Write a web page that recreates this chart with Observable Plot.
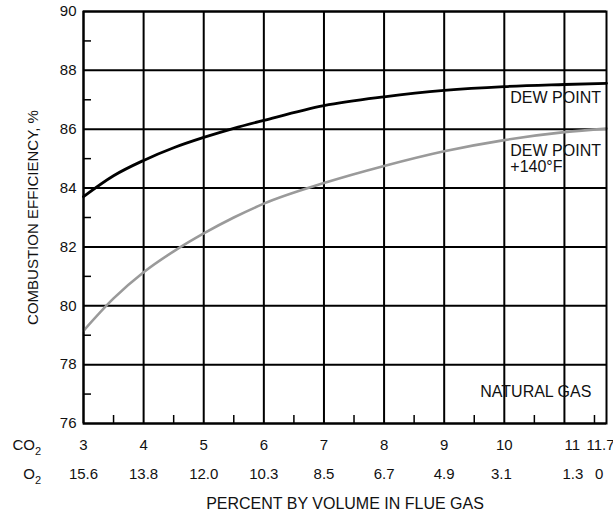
<!DOCTYPE html>
<html><head><meta charset="utf-8">
<script src="https://cdn.jsdelivr.net/npm/d3@7"></script>
<script src="https://cdn.jsdelivr.net/npm/@observablehq/plot@0.6"></script>
<style>body{margin:0;background:#fff}</style>
</head><body><div id="chart"></div>
<script>
// CO2 percent tick labels and matching O2 percent labels, with where each label sits on the CO2 axis
const co2Labels = ["3", "4", "5", "6", "7", "8", "9", "10", "11", "11.7"];
const co2LabelX = [3, 4, 5, 6, 7, 8, 9, 10, 11.13, 11.6];
const o2Labels = ["15.6", "13.8", "12.0", "10.3", "8.5", "6.7", "4.9", "3.1", "1.3", "0"];
const o2LabelX = [3, 4, 5, 6, 7, 8, 9, 9.95, 11.14, 11.58];
const xGrid = [3, 4, 5, 6, 7, 8, 9, 10, 11];
const xMinor = [3.5, 4.5, 5.5, 6.5, 7.5, 8.5, 9.5, 10.5, 11.5];
const yMajor = [76, 78, 80, 82, 84, 86, 88, 90];
const yMinor = [77, 79, 81, 83, 85, 87, 89];

// Dew point curve
const dewX = [3, 3.5, 4, 4.5, 5, 5.5, 6, 7, 8, 9, 10, 11, 11.7];
const dewY = [83.71, 84.42, 84.94, 85.37, 85.72, 86.03, 86.3, 86.8, 87.1, 87.32, 87.45, 87.52, 87.56];
// Dew point +140°F curve
const dew140X = [3, 3.5, 4, 4.5, 5, 5.5, 6, 7, 8, 9, 10, 11, 11.7];
const dew140Y = [79.15, 80.25, 81.14, 81.85, 82.46, 83.0, 83.47, 84.17, 84.75, 85.25, 85.63, 85.9, 86.02];

// In-chart annotations (data coordinates)
const noteText = ["DEW POINT", "DEW POINT\n+140°F", "NATURAL GAS"];
const noteX = [10.1, 10.1, 9.6];
const noteY = [87.07, 85.0, 77.07];

const axisTitleX = "PERCENT BY VOLUME IN FLUE GAS";
const axisTitleY = "COMBUSTION EFFICIENCY, %";

const dew = dewX.map((x, i) => ({x, y: dewY[i]}));
const dew140 = dew140X.map((x, i) => ({x, y: dew140Y[i]}));
const notes = noteText.map((t, i) => ({text: t, x: noteX[i], y: noteY[i]}));
const co2Rows = co2Labels.map((t, i) => ({text: t, x: co2LabelX[i]}));
const o2Rows = o2Labels.map((t, i) => ({text: t, x: o2LabelX[i]}));

const ink = "#111";
const plot = Plot.plot({
  width: 613,
  height: 511,
  marginLeft: 83,
  marginRight: 7,
  marginTop: 11,
  marginBottom: 88,
  style: {fontFamily: "'Liberation Sans', Arial, Helvetica, sans-serif", fontSize: "15px", color: ink, background: "#fff", overflow: "visible"},
  x: {domain: [3, 11.7]},
  y: {domain: [76, 90]},
  marks: [
    Plot.gridY(yMajor, {stroke: "#000", strokeOpacity: 1, strokeWidth: 2}),
    Plot.gridX(xGrid, {stroke: "#000", strokeOpacity: 1, strokeWidth: 2}),
    Plot.axisY({ticks: yMinor, tickSize: -8, tickFormat: () => "", label: null, stroke: "#000", strokeWidth: 1.5}),
    Plot.axisX({ticks: xMinor, tickSize: -8, tickFormat: () => "", label: null, stroke: "#000", strokeWidth: 1.5}),
    Plot.axisY({ticks: yMajor, tickSize: 0, tickPadding: 7, fontSize: 15, fill: ink,
      label: axisTitleY, labelAnchor: "center", labelOffset: 56, labelArrow: "none"}),
    Plot.text(co2Rows, {x: "x", text: "text", frameAnchor: "bottom", lineAnchor: "middle", dy: 22, fontSize: 15, fill: ink}),
    Plot.text(o2Rows, {x: "x", text: "text", frameAnchor: "bottom", lineAnchor: "middle", dy: 51, fontSize: 15, fill: ink}),
    Plot.text([axisTitleX], {frameAnchor: "bottom", lineAnchor: "middle", dy: 80, fontSize: 16, fill: ink}),
    Plot.text(notes, {x: "x", y: "y", text: "text", textAnchor: "start", lineAnchor: "middle",
      lineHeight: 1.05, fontSize: 16, fill: ink, ariaLabel: "notes"}),
    Plot.line(dew140, {x: "x", y: "y", stroke: "#9a9a9a", strokeWidth: 2.6, curve: "monotone-x"}),
    Plot.line(dew, {x: "x", y: "y", stroke: "#000", strokeWidth: 2.8, curve: "monotone-x"}),
    Plot.frame({stroke: "#000", strokeWidth: 2})
  ]
});
document.getElementById("chart").append(plot);

// White boxes behind the annotations (sized from the rendered text) so gridlines break around them
const svg = d3.select(plot);
svg.selectAll("g[aria-label='notes'] text").each(function () {
  const b = this.getBBox();
  const g = this.parentNode;
  const r = document.createElementNS("http://www.w3.org/2000/svg", "rect");
  r.setAttribute("x", b.x - 2);
  r.setAttribute("y", b.y - 1);
  r.setAttribute("width", b.width + 4);
  r.setAttribute("height", b.height + 2);
  r.setAttribute("fill", "white");
  g.parentNode.insertBefore(r, g);
});

// Row labels CO2 / O2 with subscript
const sx = plot.scale("x"), sy = plot.scale("y");
const rowX = sx.apply(3) - 42;
const base = sy.apply(76);
[["CO", 27], ["O", 56]].forEach(([t, dy]) => {
  const tx = svg.append("text")
    .attr("x", rowX).attr("y", base + dy)
    .attr("text-anchor", "end")
    .attr("fill", ink)
    .style("font-size", "15px");
  tx.append("tspan").text(t);
  tx.append("tspan").attr("dy", 5).style("font-size", "11px").text("2");
});
</script>
</body></html>
